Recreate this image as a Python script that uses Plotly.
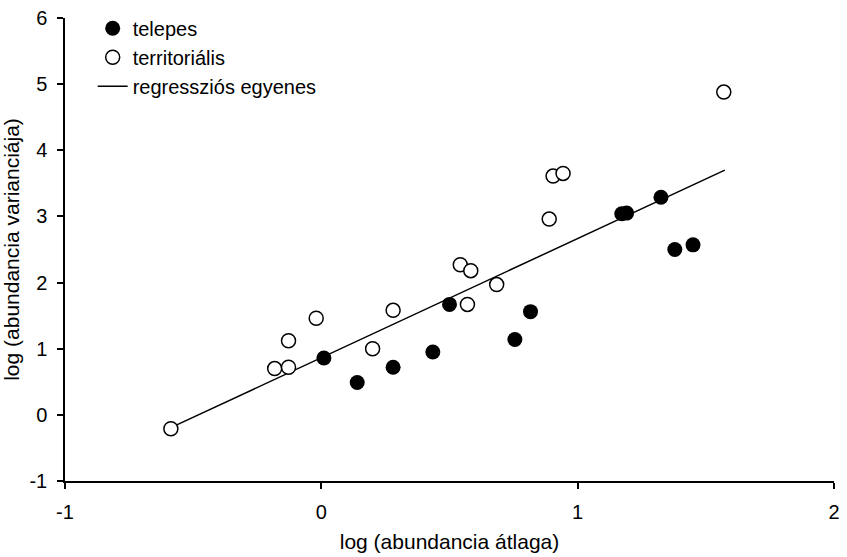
import plotly.graph_objects as go

# telepes (filled)
tel_x = [0.01, 0.14, 0.28, 0.435, 0.50, 0.755, 0.816, 1.172, 1.191, 1.325, 1.379, 1.450]
tel_y = [0.86, 0.49, 0.72, 0.95, 1.67, 1.14, 1.56, 3.04, 3.05, 3.29, 2.50, 2.57]

# territoriális (open)
ter_x = [-0.587, -0.182, -0.128, -0.128, -0.02, 0.20, 0.28, 0.542, 0.583, 0.570, 0.684, 0.889, 0.904, 0.943, 1.570]
ter_y = [-0.21, 0.70, 0.72, 1.12, 1.46, 1.00, 1.58, 2.27, 2.18, 1.67, 1.97, 2.96, 3.61, 3.65, 4.88]

# regression line end points
reg_x = [-0.585, 1.574]
reg_y = [-0.19, 3.70]

x_ticks = [-1, 0, 1, 2]
x_labels = ["-1", "0", "1", "2"]
y_ticks = [-1, 0, 1, 2, 3, 4, 5, 6]
y_labels = ["-1", "0", "1", "2", "3", "4", "5", "6"]

fig = go.Figure()
fig.add_trace(go.Scatter(x=reg_x, y=reg_y, mode="lines", name="regressziós egyenes",
                         line=dict(color="black", width=1.5), legendrank=3))
fig.add_trace(go.Scatter(x=tel_x, y=tel_y, mode="markers", name="telepes",
                         marker=dict(color="black", size=15, line=dict(width=0)), legendrank=1))
fig.add_trace(go.Scatter(x=ter_x, y=ter_y, mode="markers", name="territoriális",
                         marker=dict(color="white", size=14, line=dict(color="black", width=1.5)),
                         legendrank=2))

axis_common = dict(showgrid=False, zeroline=False, showline=True, linecolor="black", linewidth=1.5,
                   ticks="outside", ticklen=6, tickwidth=1.5, tickcolor="black",
                   tickfont=dict(size=20, color="black"))
fig.update_layout(
    width=847, height=557,
    margin=dict(l=65, r=7, t=15, b=76),
    plot_bgcolor="white", paper_bgcolor="white",
    font=dict(family="Liberation Sans, Arial, sans-serif", color="black"),
    xaxis=dict(range=[-1, 2], tickvals=x_ticks, ticktext=x_labels, ticklabelstandoff=6,
               title=dict(text="log (abundancia átlaga)", font=dict(size=21), standoff=13),
               **axis_common),
    yaxis=dict(range=[-1, 6], tickvals=y_ticks, ticktext=y_labels, ticklabelstandoff=6,
               title=dict(text="log (abundancia varianciája)", font=dict(size=21), standoff=5),
               **axis_common),
    legend=dict(x=0.036, y=1.02, xanchor="left", yanchor="top", bgcolor="rgba(0,0,0,0)",
                font=dict(size=20), tracegroupgap=0, itemsizing="trace"),
    showlegend=True,
)
fig.write_html("out.html")
